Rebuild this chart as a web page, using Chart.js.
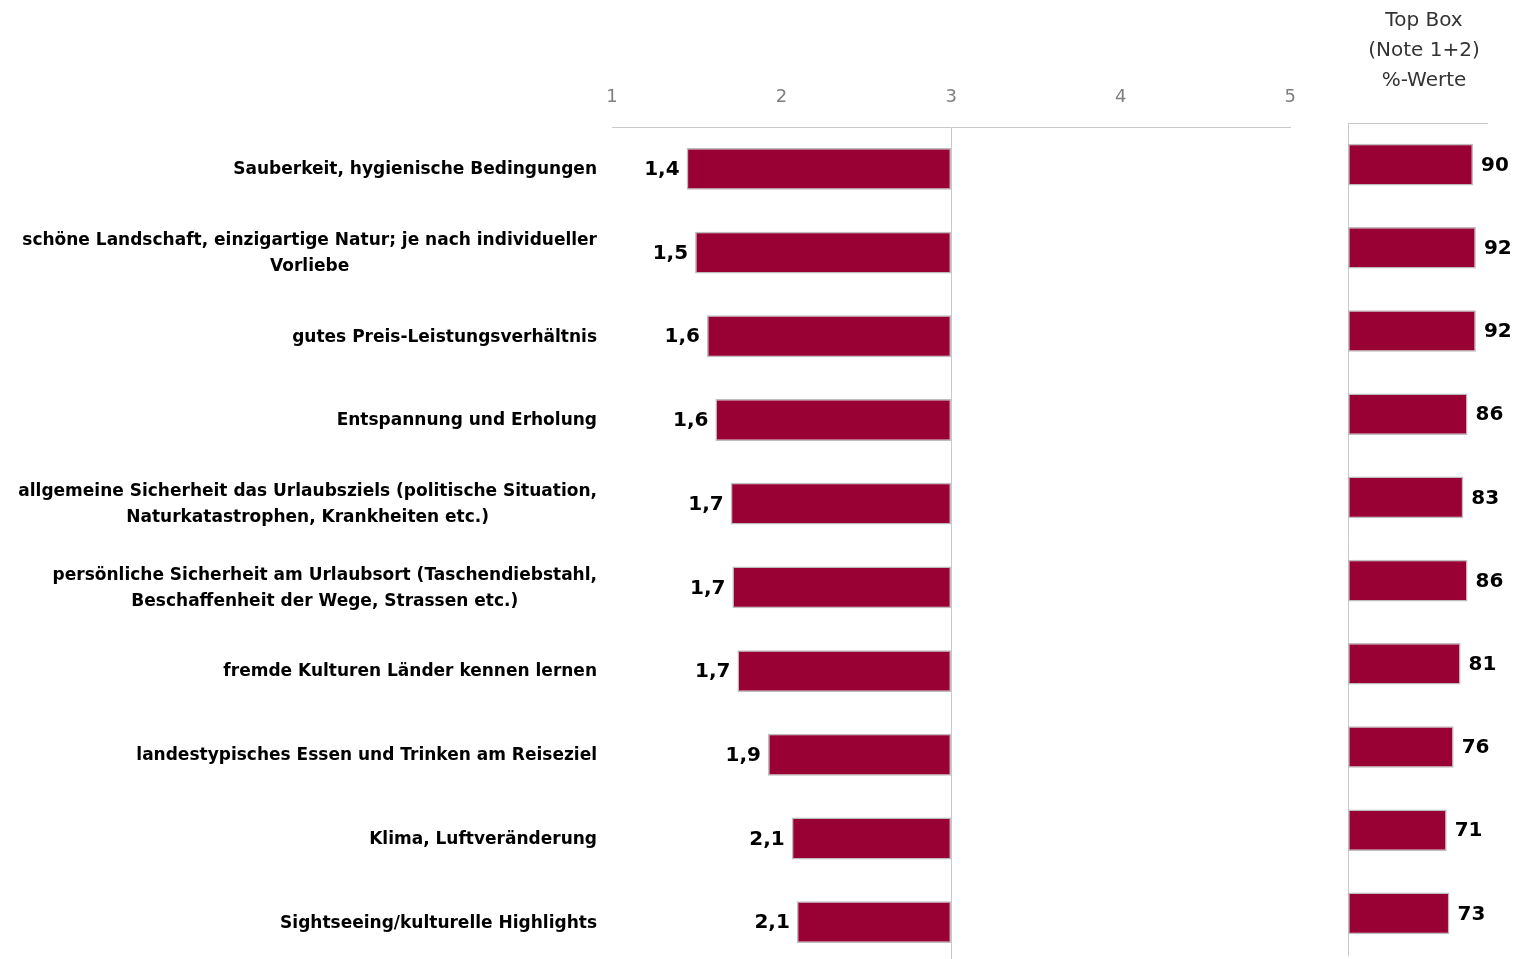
<!DOCTYPE html>
<html>
<head>
<meta charset="utf-8">
<script src="https://cdn.jsdelivr.net/npm/chart.js@4.4.1/dist/chart.umd.min.js"></script>
<style>
  html, body { margin: 0; padding: 0; background: #fff; overflow: hidden; }
  #wrap { position: relative; width: 1515px; height: 959px; }
  #meanChart { position: absolute; left: 0; top: 0; }
  #topChart { position: absolute; left: 1333px; top: 0; }
</style>
</head>
<body>
<div id="wrap">
  <canvas id="meanChart" width="1315" height="964"></canvas>
  <canvas id="topChart" width="182" height="960"></canvas>
</div>
<script>
const categories = [
  "Sauberkeit, hygienische Bedingungen",
  ["schöne Landschaft, einzigartige Natur; je nach individueller", "Vorliebe"],
  "gutes Preis-Leistungsverhältnis",
  "Entspannung und Erholung",
  ["allgemeine Sicherheit das Urlaubsziels (politische Situation,", "Naturkatastrophen, Krankheiten etc.)"],
  ["persönliche Sicherheit am Urlaubsort (Taschendiebstahl,", "Beschaffenheit der Wege, Strassen etc.)"],
  "fremde Kulturen Länder kennen lernen",
  "landestypisches Essen und Trinken am Reiseziel",
  "Klima, Luftveränderung",
  "Sightseeing/kulturelle Highlights"
];
const meanScores = [1.44, 1.49, 1.56, 1.61, 1.70, 1.71, 1.74, 1.92, 2.06, 2.09];
const topBox = [90, 92, 92, 86, 83, 86, 81, 76, 71, 73];
const scaleTicks = [1, 2, 3, 4, 5];
const refValue = 3;
const headerLines = ["Top Box", "(Note 1+2)", "%-Werte"];

const barColor = "#990033";
const barEdge = "#bdbdbd";
const lineColor = "#c8c8c8";
const fontFamily = "'DejaVu Sans', Verdana, sans-serif";

const fmt = v => v.toFixed(1).replace(".", ",");

// category labels: block right aligned, lines centred to each other
const catLabels = {
  id: "catLabels",
  afterDatasetsDraw(chart) {
    const ctx = chart.ctx;
    const meta = chart.getDatasetMeta(0);
    const right = chart.chartArea.left - 15;
    ctx.save();
    ctx.font = "bold 17px " + fontFamily;
    ctx.fillStyle = "#000";
    ctx.textAlign = "center";
    ctx.textBaseline = "middle";
    categories.forEach((c, i) => {
      const lines = Array.isArray(c) ? c : [c];
      const w = Math.max(...lines.map(l => ctx.measureText(l).width));
      const cx = right - w / 2;
      const y0 = meta.data[i].y + 1 - (lines.length - 1) * 13;
      lines.forEach((l, j) => ctx.fillText(l, cx, y0 + j * 26));
    });
    ctx.restore();
  }
};

const meanLabels = {
  id: "meanLabels",
  afterDatasetsDraw(chart) {
    const ctx = chart.ctx;
    const meta = chart.getDatasetMeta(0);
    const xs = chart.scales.x;
    ctx.save();
    ctx.font = "bold 20px " + fontFamily;
    ctx.fillStyle = "#000";
    ctx.textAlign = "right";
    ctx.textBaseline = "middle";
    meanScores.forEach((v, i) => {
      ctx.fillText(fmt(v), xs.getPixelForValue(v) - 7, meta.data[i].y + 1);
    });
    ctx.restore();
  }
};

const topLabels = {
  id: "topLabels",
  afterDatasetsDraw(chart) {
    const ctx = chart.ctx;
    const meta = chart.getDatasetMeta(0);
    const xs = chart.scales.x;
    ctx.save();
    ctx.font = "bold 20px " + fontFamily;
    ctx.fillStyle = "#000";
    ctx.textAlign = "left";
    ctx.textBaseline = "middle";
    topBox.forEach((v, i) => {
      ctx.fillText(String(v), xs.getPixelForValue(v) + 8, meta.data[i].y + 1);
    });
    // column header
    ctx.font = "20px " + fontFamily;
    ctx.fillStyle = "#333";
    ctx.textAlign = "center";
    headerLines.forEach((l, j) => ctx.fillText(l, chart.width / 2, 21 + j * 30));
    ctx.restore();
  }
};

new Chart(document.getElementById("meanChart"), {
  type: "bar",
  data: {
    labels: categories,
    datasets: [{
      data: meanScores.map(v => [v, refValue]),
      backgroundColor: barColor,
      borderColor: barEdge,
      borderWidth: 1.5,
      borderSkipped: false,
      barPercentage: 0.5,
      categoryPercentage: 1
    }]
  },
  options: {
    indexAxis: "y",
    responsive: false,
    animation: false,
    layout: { padding: { right: 10, left: 0, top: 0, bottom: 0 } },
    plugins: { legend: { display: false }, tooltip: { enabled: false } },
    scales: {
      x: {
        position: "top",
        min: 1,
        max: 5,
        afterBuildTicks: s => { s.ticks = scaleTicks.map(v => ({ value: v })); },
        afterFit: s => { s.height = 127; },
        ticks: { color: "#7f7f7f", font: { family: fontFamily, size: 18 }, padding: 19, maxRotation: 0 },
        grid: {
          drawTicks: false,
          color: c => (c.tick && c.tick.value === refValue ? lineColor : "rgba(0,0,0,0)"),
          lineWidth: 1
        },
        border: { display: true, color: lineColor, width: 1 }
      },
      y: {
        afterFit: s => { s.width = 612; },
        ticks: { display: false },
        grid: { display: false },
        border: { display: false }
      }
    }
  },
  plugins: [catLabels, meanLabels]
});

new Chart(document.getElementById("topChart"), {
  type: "bar",
  data: {
    labels: categories,
    datasets: [{
      data: topBox,
      backgroundColor: barColor,
      borderColor: barEdge,
      borderWidth: 1.5,
      borderSkipped: false,
      barPercentage: 0.5,
      categoryPercentage: 1
    }]
  },
  options: {
    indexAxis: "y",
    responsive: false,
    animation: false,
    layout: { padding: { right: 28, left: 0, top: 0, bottom: 5 } },
    plugins: { legend: { display: false }, tooltip: { enabled: false } },
    scales: {
      x: {
        position: "top",
        min: 0,
        max: 100,
        afterFit: s => { s.height = 123; },
        ticks: { display: false },
        grid: { display: false },
        border: { display: true, color: lineColor, width: 1 }
      },
      y: {
        afterFit: s => { s.width = 15; },
        ticks: { display: false },
        grid: { display: false },
        border: { display: true, color: lineColor, width: 1 }
      }
    }
  },
  plugins: [topLabels]
});
</script>
</body>
</html>
